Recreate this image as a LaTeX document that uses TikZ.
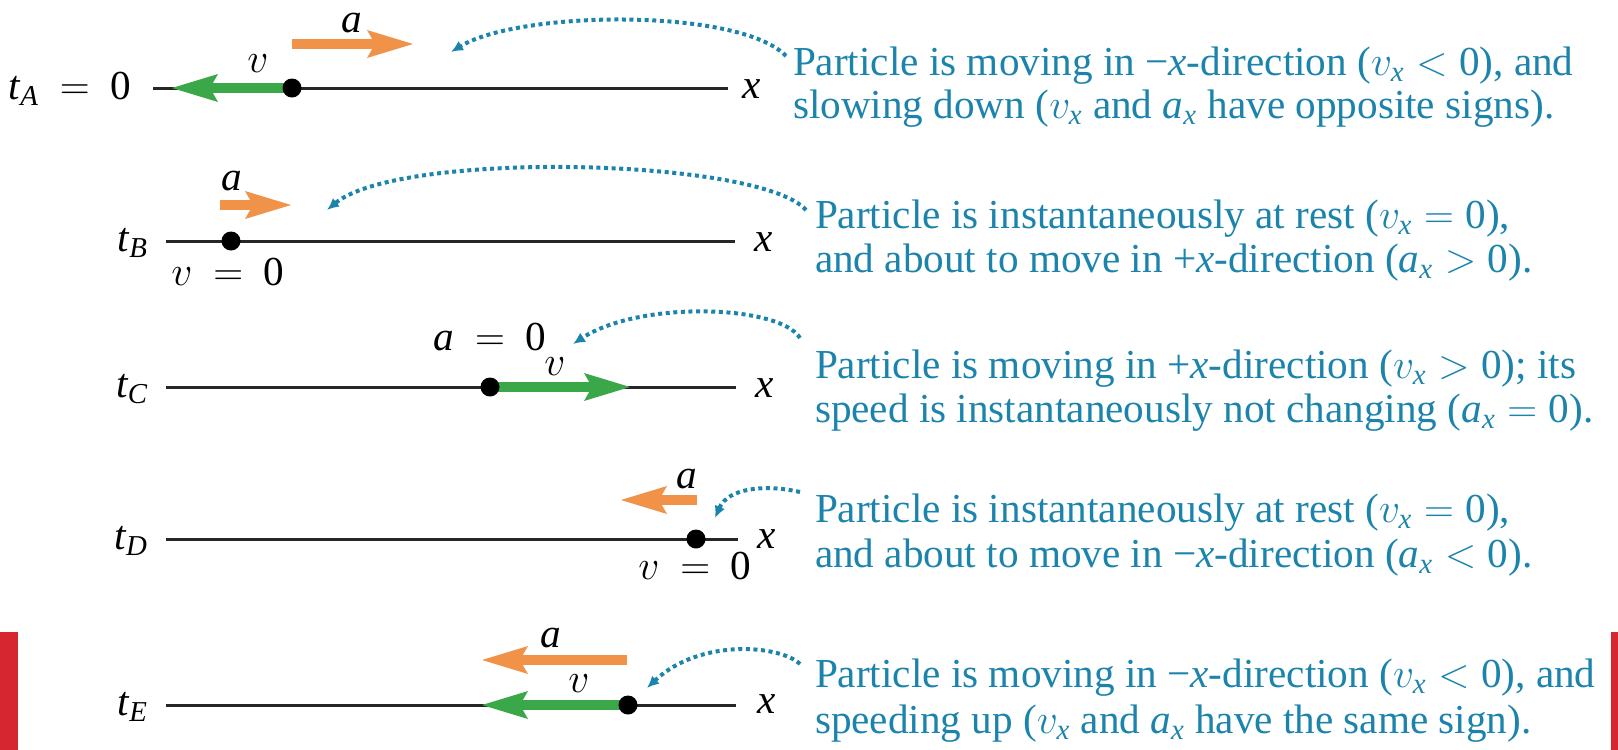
\documentclass[tikz,border=0pt]{standalone}
\usepackage{amsmath}
\usepackage{fontspec}
\setmainfont{Liberation Serif}
\usetikzlibrary{arrows.meta}
\definecolor{vgreen}{RGB}{58,168,72}
\definecolor{aorange}{RGB}{240,146,72}
\definecolor{noteblue}{RGB}{28,132,172}
\definecolor{barred}{RGB}{214,38,48}
\newcommand{\myvx}{\ensuremath{v_{\mathit{x}}}}
\newcommand{\myax}{\ensuremath{\mathit{a}_{\mathit{x}}}}
\newcommand{\myxx}{\textit{x}}
\newcommand{\zr}{\text{0}}
\newcommand{\lbleq}{\mathrel{\mkern4mu=\mkern4mu}}
\newcommand{\bigfont}{\fontsize{20.6pt}{25pt}\selectfont}
\begin{document}
\begin{tikzpicture}[x=0.5pt,y=-0.5pt,
  every node/.style={inner sep=0pt,outer sep=0pt,font=\bigfont},
  axis/.style={line width=1.5pt,black!85},
  velarrow/.style={line width=5pt,draw=vgreen,-{Stealth[length=23pt,width=14pt,inset=4pt,line width=0pt]}},
  accarrow/.style={line width=5pt,draw=aorange,-{Stealth[length=23pt,width=14pt,inset=4pt,line width=0pt]}},
  particle/.style={circle,fill=black,minimum size=9.5pt},
  note/.style={anchor=base west,text=noteblue},
  lbl/.style={anchor=base},
  tlbl/.style={anchor=base east},
  pointer/.style={noteblue,line width=2pt,dash pattern=on 2pt off 1.8pt,-{Latex[length=6pt,width=5.5pt]}},
]
\useasboundingbox (0,0) rectangle (1618,750);
\fill[barred] (0,632) rectangle (18,750);
\fill[barred] (1611,632) rectangle (1618,750);

% ---------- Row A ----------
\coordinate (LA) at (153,88); \coordinate (RA) at (728,88);
\draw[axis] (LA) -- (RA);
\node[tlbl] (tA) at (131,99) {$\mathit{t}_{\mathit{A}}\lbleq\zr$};
\node[lbl] (xA) at (752,98) {$\mathit{x}$};
\coordinate (pA) at (292,88); \coordinate (vAt) at (172,88);
\draw[velarrow] (pA) -- (vAt);
\node[particle] (dotA) at (pA) {};
\node[lbl] (vA) at (258,72) {$v$};
\coordinate (aA0) at (292,44); \coordinate (aA1) at (413,44);
\draw[accarrow] (aA0) -- (aA1);
\node[lbl] (aA) at (352,32) {$\mathit{a}$};
\node[note] (nA1) at (793,75) {Particle is moving in −\myxx-direction (\myvx${}<\zr$), and};
\node[note] (nA2) at (793,118) {slowing down (\myvx\ and \myax\ have opposite signs).};
\coordinate (sA) at (786,56); \coordinate (eA) at (451,52);
\draw[pointer] (sA) .. controls (740,8) and (520,10) .. (eA);

% ---------- Row B ----------
\coordinate (LB) at (166,241); \coordinate (RB) at (735,241);
\draw[axis] (LB) -- (RB);
\node[tlbl] (tB) at (148,251) {$\mathit{t}_{\mathit{B}}$};
\node[lbl] (xB) at (764,251) {$\mathit{x}$};
\node[particle] (dotB) at (231,241) {};
\node[lbl] (vB) at (228,285) {$v\lbleq\zr$};
\coordinate (aB0) at (220,205); \coordinate (aB1) at (291,205);
\draw[accarrow] (aB0) -- (aB1);
\node[lbl] (aB) at (232,190) {$\mathit{a}$};
\node[note] (nB1) at (815,228) {Particle is instantaneously at rest (\myvx${}=\zr$),};
\node[note] (nB2) at (815,272) {and about to move in +\myxx-direction (\myax${}>\zr$).};
\coordinate (sB) at (806,210); \coordinate (eB) at (327,210);
\draw[pointer] (sB) .. controls (760,158) and (400,150) .. (eB);

% ---------- Row C ----------
\coordinate (LC) at (166,387); \coordinate (RC) at (736,387);
\draw[axis] (LC) -- (RC);
\node[tlbl] (tC) at (148,397) {$\mathit{t}_{\mathit{C}}$};
\node[lbl] (xC) at (765,397) {$\mathit{x}$};
\coordinate (pC) at (490,387); \coordinate (vCt) at (630,387);
\draw[velarrow] (pC) -- (vCt);
\node[particle] (dotC) at (pC) {};
\node[lbl] (vC) at (555,375) {$v$};
\node[lbl] (aC) at (490,350) {$\mathit{a}\lbleq\zr$};
\node[note] (nC1) at (815,378) {Particle is moving in +\myxx-direction (\myvx${}>\zr$); its};
\node[note] (nC2) at (815,422) {speed is instantaneously not changing (\myax${}=\zr$).};
\coordinate (sC) at (800,338); \coordinate (eC) at (573,344);
\draw[pointer] (sC) .. controls (780,305) and (640,300) .. (eC);

% ---------- Row D ----------
\coordinate (LD) at (166,539); \coordinate (RD) at (738,539);
\draw[axis] (LD) -- (RD);
\node[tlbl] (tD) at (148,549) {$\mathit{t}_{\mathit{D}}$};
\node[lbl] (xD) at (767,548) {$\mathit{x}$};
\node[particle] (dotD) at (696,539) {};
\node[lbl] (vD) at (695,579) {$v\lbleq\zr$};
\coordinate (aD0) at (697,500); \coordinate (aD1) at (621,500);
\draw[accarrow] (aD0) -- (aD1);
\node[lbl] (aD) at (687,488) {$\mathit{a}$};
\node[note] (nD1) at (815,522) {Particle is instantaneously at rest (\myvx${}=\zr$),};
\node[note] (nD2) at (815,567) {and about to move in −\myxx-direction (\myax${}<\zr$).};
\coordinate (sD) at (800,492); \coordinate (eD) at (715,518);
\draw[pointer] (sD) .. controls (765,484) and (728,488) .. (eD);

% ---------- Row E ----------
\coordinate (LE) at (166,705); \coordinate (RE) at (736,705);
\draw[axis] (LE) -- (RE);
\node[tlbl] (tE) at (148,715) {$\mathit{t}_{\mathit{E}}$};
\node[lbl] (xE) at (767,713) {$\mathit{x}$};
\coordinate (pE) at (628,705); \coordinate (vEt) at (482,705);
\draw[velarrow] (pE) -- (vEt);
\node[particle] (dotE) at (pE) {};
\node[lbl] (vE) at (579,692) {$v$};
\coordinate (aE0) at (627,660); \coordinate (aE1) at (482,660);
\draw[accarrow] (aE0) -- (aE1);
\node[lbl] (aE) at (551,647) {$\mathit{a}$};
\node[note] (nE1) at (815,687) {Particle is moving in −\myxx-direction (\myvx${}<\zr$), and};
\node[note] (nE2) at (815,733) {speeding up (\myvx\ and \myax\ have the same sign).};
\coordinate (sE) at (800,664); \coordinate (eE) at (647,688);
\draw[pointer] (sE) .. controls (780,645) and (700,638) .. (eE);
\end{tikzpicture}
\end{document}
